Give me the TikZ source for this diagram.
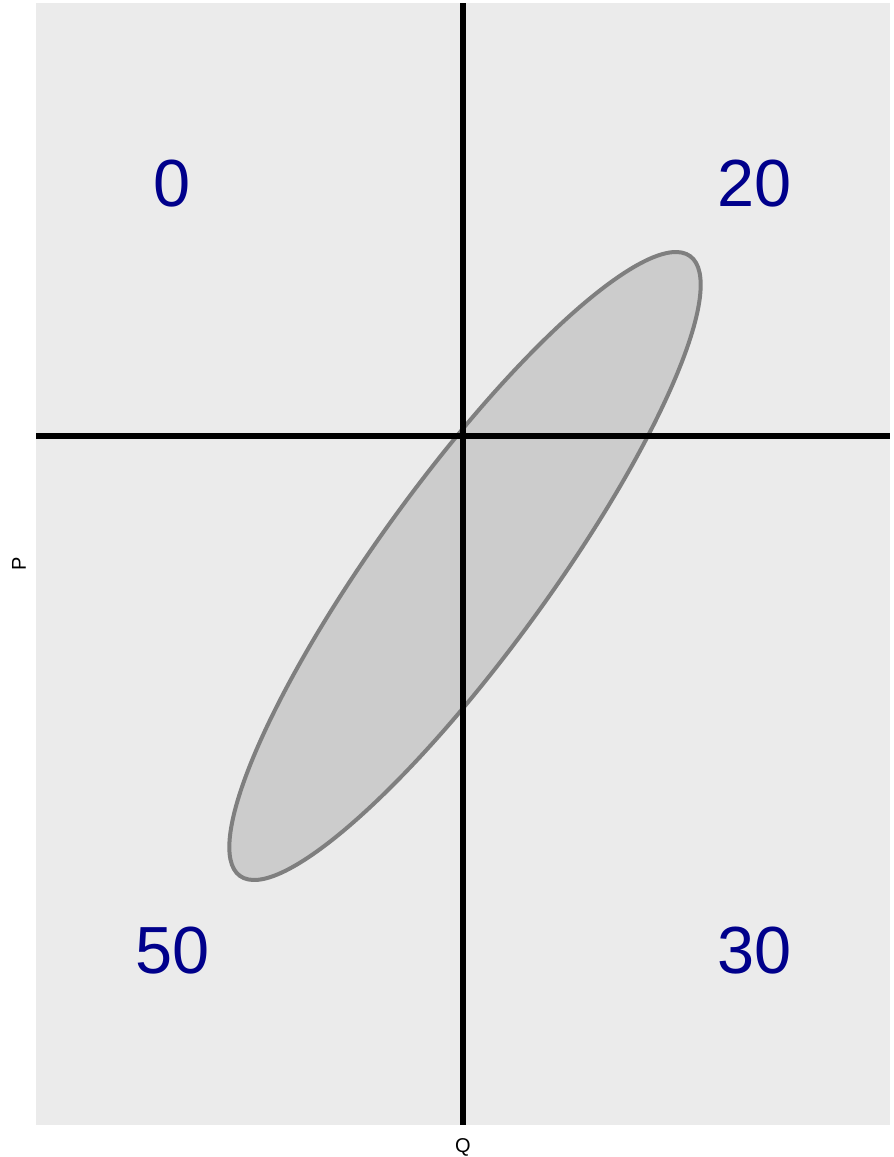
\documentclass[tikz,border=0pt]{standalone}
\usepackage{fontspec}
\setmainfont{Liberation Sans}
\definecolor{panel}{HTML}{EBEBEB}
\definecolor{ellfill}{HTML}{CCCCCC}
\definecolor{ellline}{HTML}{7F7F7F}
\definecolor{numcol}{HTML}{00008B}
\begin{document}
\begin{tikzpicture}[x=0.75pt,y=-0.75pt,
  num/.style={text=numcol,font=\fontsize{50}{60}\selectfont,inner sep=0},
  axlab/.style={font=\fontsize{15}{18}\selectfont,inner sep=0},
  axisline/.style={line width=5pt,black},
  ell/.style={fill=ellfill,draw=ellline,line width=3pt}]
\useasboundingbox (0,0) rectangle (893,1157);
\fill[panel] (36,3) rectangle (890,1125);
\coordinate (c) at (465,566);
\draw[ell,rotate around={54:(c)}] (c) ellipse [x radius=383, y radius=86];
\coordinate (vt) at (463,3);
\coordinate (vb) at (463,1125);
\coordinate (hl) at (36,436);
\coordinate (hr) at (890,436);
\draw[axisline] (vt) -- (vb);
\draw[axisline] (hl) -- (hr);
\node[num] (n0) at (172,184) {0};
\node[num] (n20) at (755,184) {20};
\node[num] (n50) at (173,951) {50};
\node[num] (n30) at (755,951) {30};
\node[axlab,anchor=base] (q) at (463,1152) {Q};
\node[axlab,anchor=base,rotate=90] (p) at (26,564) {P};
\end{tikzpicture}
\end{document}
